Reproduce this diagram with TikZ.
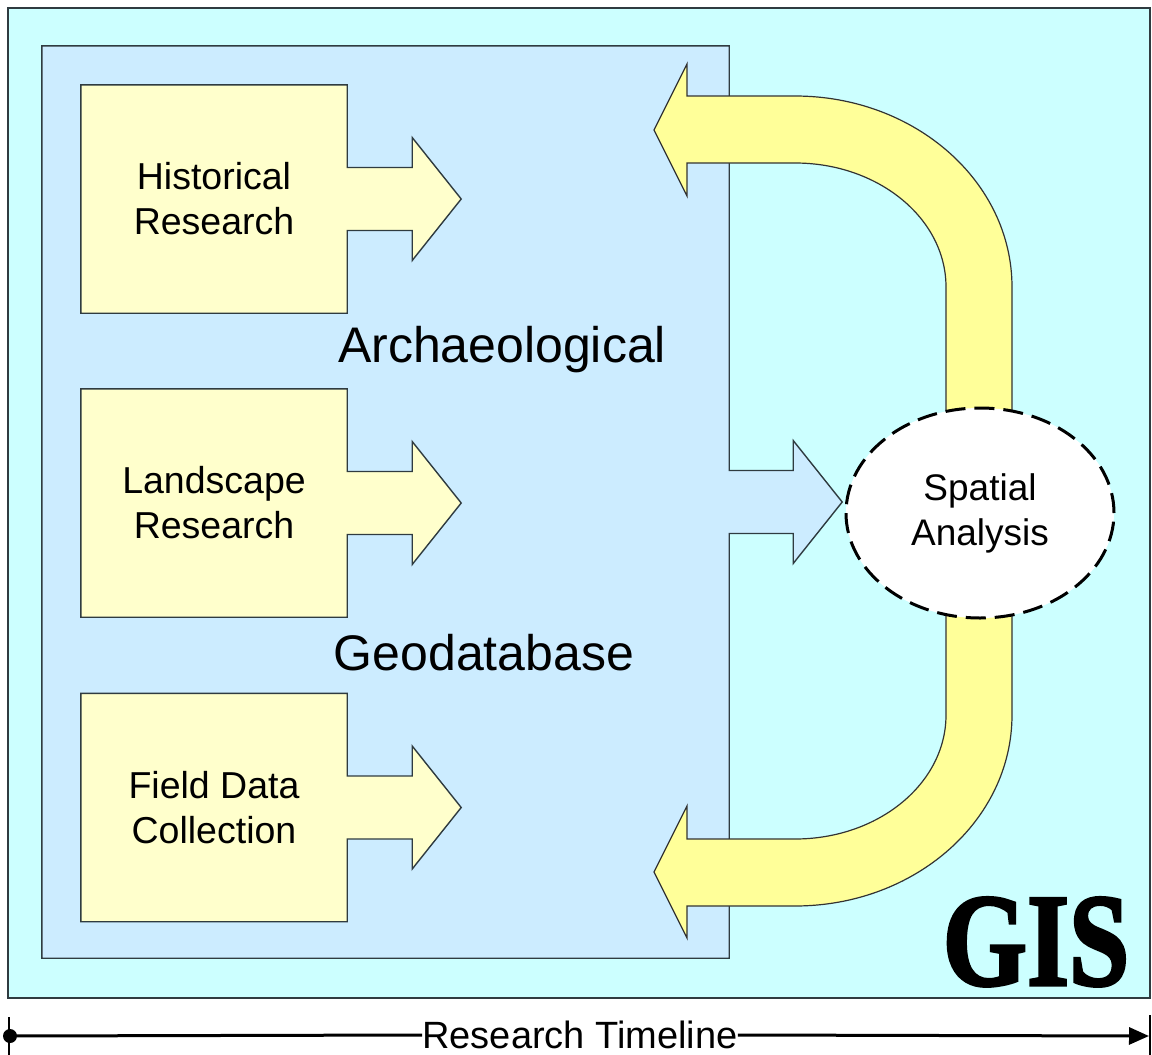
\documentclass[tikz,border=0pt]{standalone}
\usepackage{fontspec}
\setmainfont{Liberation Sans}
\newfontfamily\gisfont[BoldFeatures={FakeBold=2.5}]{Liberation Serif}
\usetikzlibrary{shapes.geometric,arrows.meta}
\definecolor{outercyan}{HTML}{CCFFFF}
\definecolor{innerblue}{HTML}{CCECFF}
\definecolor{boxyellow}{HTML}{FFFFCC}
\definecolor{curveyellow}{HTML}{FFFF99}
\definecolor{edgegray}{HTML}{2F3B40}
\tikzset{
  outline/.style={draw=edgegray, line width=1.4pt},
  ybox/.style={rectangle, fill=boxyellow, minimum width=266pt, minimum height=228pt,
    inner sep=0pt, align=center, font=\fontsize{37.5}{45}\selectfont},
  yarrow/.style={fill=boxyellow},
  bigtext/.style={font=\fontsize{50}{60}\selectfont, inner sep=0pt},
  curvearrow/.style={fill=curveyellow, draw=black!80, line width=1.2pt},
  spatialnode/.style={ellipse, fill=white, draw=black, line width=3pt,
    dash pattern=on 20pt off 9pt, minimum width=268pt, minimum height=210pt,
    align=center, inner sep=0pt, font=\fontsize{37}{45}\selectfont},
  tline/.style={line width=3pt, draw=black}
}
\begin{document}
\begin{tikzpicture}[x=1pt,y=-1pt]
\useasboundingbox (0,0) rectangle (1152,1055);
% outer GIS frame
\draw[fill=outercyan, draw=edgegray, line width=1.6pt] (8,8) rectangle (1150,998);
% geodatabase box
\node[rectangle, fill=innerblue, minimum width=687pt, minimum height=912pt, inner sep=0pt] (geo) at (385.5,502) {};
% spatial analysis centre
\coordinate (spc) at (980,513);
% blue arrow from geodatabase
\fill[innerblue] ([yshift=31.5pt]geo.east) -- ++(64,0) -- ++(0,-30) -- ++(49,61.5) -- ++(-49,61.5) -- ++(0,-30) -- ([yshift=-31.5pt]geo.east) -- cycle;
\draw[outline] (geo.north east) -- ([yshift=31.5pt]geo.east) -- ++(64,0) -- ++(0,-30) -- ++(49,61.5) -- ++(-49,61.5) -- ++(0,-30) -- ([yshift=-31.5pt]geo.east) -- (geo.south east) -- (geo.south west) -- (geo.north west) -- cycle;
% source boxes
\foreach \nm/\cy/\txt in {hist/199/{Historical\\Research}, land/503/{Landscape\\Research}, field/807.5/{Field Data\\Collection}}{
  \node[ybox] (\nm) at (214,\cy) {\txt};
  \fill[yarrow] ([yshift=31.5pt]\nm.east) -- ++(65,0) -- ++(0,-30) -- ++(49,61.5) -- ++(-49,61.5) -- ++(0,-30) -- ([yshift=-31.5pt]\nm.east) -- cycle;
  \draw[outline] (\nm.north west) -- (\nm.north east) -- ([yshift=31.5pt]\nm.east) -- ++(65,0) -- ++(0,-30) -- ++(49,61.5) -- ++(-49,61.5) -- ++(0,-30) -- ([yshift=-31.5pt]\nm.east) -- (\nm.south east) -- (\nm.south west) -- cycle;
}
% labels
\node[bigtext] (arch) at (502,350) {Archaeological};
\node[bigtext] (geodb) at (484,653) {Geodatabase};
% curved feedback arrows
\draw[curvearrow] (946,450) -- (946,287) arc[start angle=0, end angle=-90, x radius=151, y radius=124]
  -- (687,163) -- (687,196) -- (654,130) -- (687,64) -- (687,96) -- (795,96)
  arc[start angle=-90, end angle=0, x radius=217, y radius=191] -- (1012,450) -- cycle;
\draw[curvearrow] (946,560) -- (946,715) arc[start angle=0, end angle=90, x radius=151, y radius=124]
  -- (687,839) -- (687,806) -- (654,872) -- (687,938) -- (687,906) -- (795,906)
  arc[start angle=90, end angle=0, x radius=217, y radius=191] -- (1012,560) -- cycle;
% spatial analysis
\node[spatialnode] (spatial) at (spc) {Spatial\\Analysis};
% GIS logo
\node[anchor=base, inner sep=0pt, xscale=0.82, font=\gisfont\bfseries\fontsize{132}{132}\selectfont] (gis) at (1036,985) {GIS};
% research timeline
\node[inner sep=0pt, font=\fontsize{38}{45}\selectfont] (tl) at (580,1035) {Research Timeline};
\coordinate (tlL) at (10,1036);
\coordinate (tlR) at (1149,1036);
\coordinate (tickLt) at (9,1017);
\coordinate (tickLb) at (9,1055);
\coordinate (tickRt) at (1150,1015);
\coordinate (tickRb) at (1150,1055);
\draw[tline] (tlL) -- (tl.west);
\draw[tline, -{Triangle[length=20pt,width=17pt]}] (tl.east) -- (tlR);
\fill (tlL) circle[radius=7];
\draw[line width=2pt] (tickLt) -- (tickLb);
\draw[line width=2pt] (tickRt) -- (tickRb);
\end{tikzpicture}
\end{document}
